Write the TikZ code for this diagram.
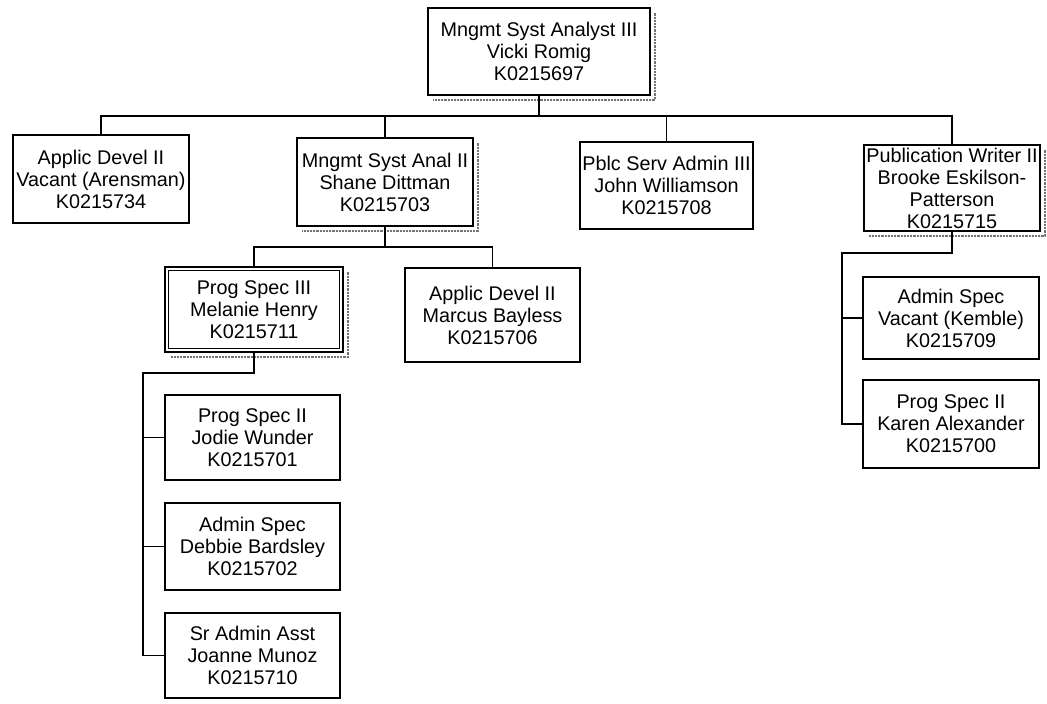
\documentclass[tikz,border=0pt]{standalone}
\usepackage{fontspec}
\setmainfont{Liberation Sans}
\begin{document}
\begin{tikzpicture}[x=1pt,y=-1pt,
  box/.style={draw=black, line width=1.3pt, fill=white, align=center, inner sep=0pt,
    font=\fontsize{19.8}{22}\selectfont},
  conn/.style={draw=black, line width=1.2pt},
  shad/.style={draw=black!55, line width=2.2pt, densely dotted}]
\useasboundingbox (0,0) rectangle (1047,704);
\fill[white] (0,0) rectangle (1047,704);

% top
\node[box, minimum width=222pt, minimum height=87pt] (top) at (539,51.5)
  {Mngmt Syst Analyst III\\Vicki Romig\\K0215697};
% level 1
\node[box, minimum width=176pt, minimum height=88pt] (a1) at (101,179)
  {Applic Devel II\\Vacant (Arensman)\\K0215734};
\node[box, minimum width=176pt, minimum height=88pt] (a2) at (385,182)
  {Mngmt Syst Anal II\\Shane Dittman\\K0215703};
\node[box, minimum width=173pt, minimum height=87pt] (a3) at (666.5,185.5)
  {Pblc Serv Admin III\\John Williamson\\K0215708};
\node[box, minimum width=176pt, minimum height=86pt] (a4) at (952,188)
  {Publication Writer II\\Brooke Eskilson-\\Patterson\\K0215715};
% level 2
\node[box, minimum width=178pt, minimum height=85pt] (b1) at (254,309.5)
  {Prog Spec III\\Melanie Henry\\K0215711};
\node[box, minimum width=175pt, minimum height=94pt] (b2) at (492.5,315)
  {Applic Devel II\\Marcus Bayless\\K0215706};
% level 3 left
\node[box, minimum width=175pt, minimum height=85pt] (c1) at (252.5,437.5)
  {Prog Spec II\\Jodie Wunder\\K0215701};
\node[box, minimum width=175pt, minimum height=87pt] (c2) at (252.5,546.5)
  {Admin Spec\\Debbie Bardsley\\K0215702};
\node[box, minimum width=175pt, minimum height=85pt] (c3) at (252.5,655.5)
  {Sr Admin Asst\\Joanne Munoz\\K0215710};
% level 3 right
\node[box, minimum width=176pt, minimum height=82pt] (d1) at (951,318)
  {Admin Spec\\Vacant (Kemble)\\K0215709};
\node[box, minimum width=176pt, minimum height=88pt] (d2) at (951,424)
  {Prog Spec II\\Karen Alexander\\K0215700};

% double border on Prog Spec III
\draw[line width=0.9pt] ([shift={(4.5,4.5)}]b1.north west) rectangle ([shift={(-4.5,-4.5)}]b1.south east);

% shadows
\foreach \n in {top,a2,b1,a4}{
  \draw[shad] ([shift={(4,6)}]\n.north east) -- ([shift={(4,4)}]\n.south east) -- ([shift={(6,4)}]\n.south west);
}

% connectors
\coordinate (bus1) at (0,116);
\draw[conn] (top.south) -- (top.south |- bus1);
\draw[conn] (a1.north) -- (a1.north |- bus1) -- (a4.north |- bus1) -- (a4.north);
\draw[conn] (a2.north |- bus1) -- (a2.north);
\draw[conn] (a3.north |- bus1) -- (a3.north);

\coordinate (bus2) at (0,247);
\draw[conn] (a2.south) -- (a2.south |- bus2);
\draw[conn] (b1.north) -- (b1.north |- bus2) -- (b2.north |- bus2) -- (b2.north);

\coordinate (lspine) at (143,373);
\draw[conn] (b1.south) -- (b1.south |- lspine) -- (lspine) -- (lspine |- c3.west) -- (c3.west);
\draw[conn] (lspine |- c1.west) -- (c1.west);
\draw[conn] (lspine |- c2.west) -- (c2.west);

\coordinate (rspine) at (842,253);
\draw[conn] (a4.south) -- (a4.south |- rspine) -- (rspine) -- (rspine |- d2.west) -- (d2.west);
\draw[conn] (rspine |- d1.west) -- (d1.west);
\end{tikzpicture}
\end{document}
